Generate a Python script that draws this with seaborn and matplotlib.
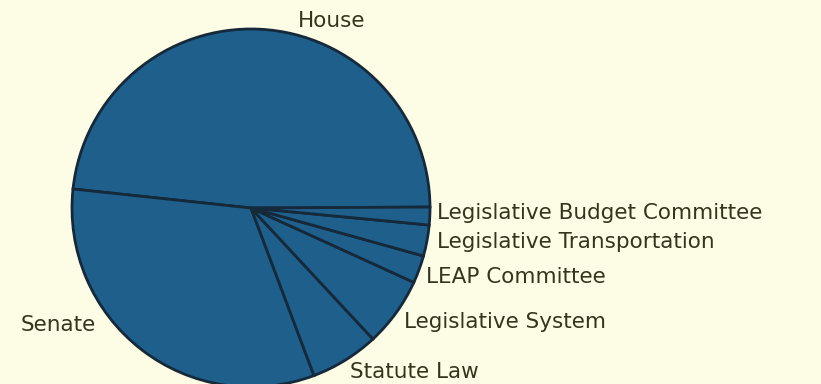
import matplotlib.pyplot as plt
import seaborn as sns

# shares of the budget (percent), counterclockwise from the right
labels = ["House", "Senate", "Statute Law", "Legislative System",
          "LEAP Committee", "Legislative Transportation",
          "Legislative Budget Committee"]
shares = [48.2, 32.4, 6.2, 6.25, 2.5, 2.8, 1.6]

# label anchor points (pixels, left/center)
label_x = [298, 21, 350, 404, 426, 437, 437]
label_y = [21, 325, 372, 322, 277, 242, 213]

bg = "#fdfce4"
blue = "#1f5f8c"
edge = "#15293a"
ink = "#35341f"

sns.set_theme(style="white")
plt.rcParams["font.family"] = ["DejaVu Sans"]

fig = plt.figure(figsize=(8.21, 3.84), dpi=100, facecolor=bg)
ax = fig.add_axes([0, 0, 1, 1])
ax.set_facecolor(bg)

W, H = 821, 384
ax.pie(shares, colors=[blue] * len(shares), startangle=0.3,
       center=(251, H - 208), radius=179, counterclock=True,
       wedgeprops=dict(edgecolor=edge, linewidth=2.0))
ax.set_xlim(0, W)
ax.set_ylim(0, H)
ax.set_aspect("equal")
ax.axis("off")

for name, x, y in zip(labels, label_x, label_y):
    ax.text(x, H - y, name, ha="left", va="center", fontsize=15.5,
            color=ink)

fig.savefig("out.png", dpi=100, facecolor=bg)
plt.close()
